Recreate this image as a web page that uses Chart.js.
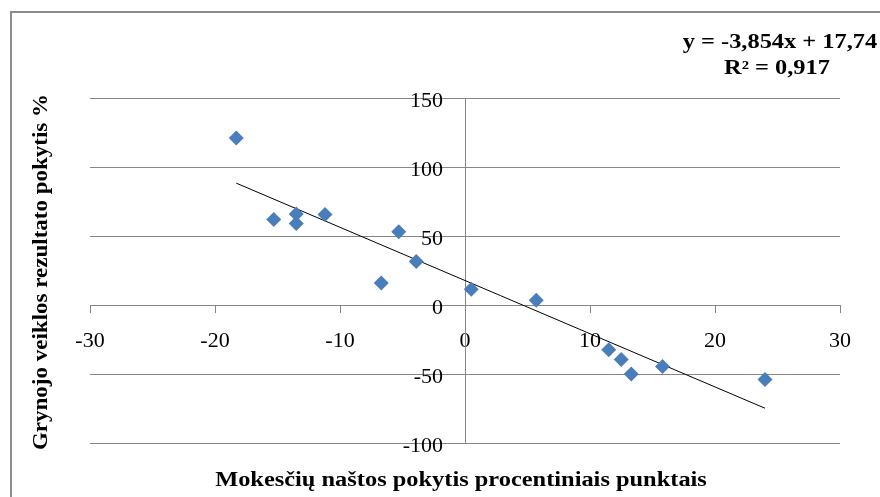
<!DOCTYPE html>
<html>
<head>
<meta charset="utf-8">
<script src="https://cdn.jsdelivr.net/npm/chart.js@4/dist/chart.umd.min.js"></script>
<style>
  html, body { margin: 0; padding: 0; background: #fff; }
  #wrap { width: 880px; height: 497px; }
</style>
</head>
<body>
<div id="wrap"><canvas id="canvas" width="880" height="497"></canvas></div>
<script>
// taxes change (pp) vs net result change (%)
const taxChange = [-18.3, -15.3, -13.5, -13.5, -11.2, -5.3, -3.9, -6.7, 0.5, 5.7, 11.5, 12.5, 13.3, 15.8, 24.0]
const resultChange = [121, 62, 66, 59, 65.5, 53, 31.5, 16, 11.5, 3.5, -32.5, -39.5, -50, -44.5, -54]

// linear trend endpoints, as drawn
const trendX = [-18.3, 24.0]
const trendY = [88.3, -74.8]

const equationText = ["y = -3,854x + 17,74", "R² = 0,917"]
const xTitle = "Mokesčių naštos pokytis procentiniais punktais"
const yTitle = "Grynojo veiklos rezultato pokytis %"

const serif = "'Liberation Serif', 'Times New Roman', serif"
const axisGray = "#868686"

// text in the original is a bit wider than it is tall
function wideText(c, text, x, y, stretch) {
  c.save()
  c.translate(x, y)
  c.scale(stretch, 1)
  c.fillText(text, 0, 0)
  c.restore()
}

const decor = {
  id: "decor",
  beforeDraw(chart) {
    const c = chart.ctx
    c.save()
    c.strokeStyle = "#8c8c8c"
    c.lineWidth = 2
    c.strokeRect(11, 12, 900, 520)
    c.restore()
  },
  afterDraw(chart) {
    const c = chart.ctx
    c.save()
    c.fillStyle = "#000"
    c.font = "bold 20px " + serif
    c.textAlign = "center"
    c.textBaseline = "middle"
    wideText(c, equationText[0], 780, 43, 1.22)
    wideText(c, equationText[1], 777, 69, 1.22)

    wideText(c, xTitle, 461, 481, 1.22)

    c.translate(42, 272)
    c.rotate(-Math.PI / 2)
    wideText(c, yTitle, 0, 0, 1.15)
    c.restore()
  }
}

const canvas = document.getElementById("canvas")
new Chart(canvas, {
  type: "scatter",
  data: {
    datasets: [
      {
        data: taxChange.map((x, i) => ({ x, y: resultChange[i] })),
        pointStyle: "rectRot",
        pointRadius: 7.5,
        pointHoverRadius: 7.5,
        backgroundColor: "#4a7ebb",
        borderColor: "#4a7ebb",
        borderWidth: 0
      },
      {
        data: trendX.map((x, i) => ({ x, y: trendY[i] })),
        showLine: true,
        borderColor: "#000",
        borderWidth: 1,
        pointRadius: 0
      }
    ]
  },
  options: {
    responsive: false,
    animation: false,
    layout: {
      padding: { left: 90, right: 40, top: 98, bottom: 54 }
    },
    plugins: {
      legend: { display: false },
      tooltip: { enabled: false }
    },
    scales: {
      x: {
        type: "linear",
        min: -30,
        max: 30,
        position: { y: 0 },
        ticks: {
          stepSize: 10,
          padding: 16,
          color: "#000",
          font: { family: serif, size: 22 }
        },
        grid: {
          drawOnChartArea: false,
          drawTicks: true,
          tickLength: 7,
          color: axisGray
        },
        border: { color: axisGray }
      },
      y: {
        type: "linear",
        min: -100,
        max: 150,
        position: { x: 0 },
        ticks: {
          stepSize: 50,
          labelOffset: 3,
          color: "#000",
          font: { family: serif, size: 22 },
          callback: v => v + "    "
        },
        grid: {
          color: axisGray,
          tickLength: 7
        },
        border: { color: axisGray }
      }
    }
  },
  plugins: [decor]
})
</script>
</body>
</html>
